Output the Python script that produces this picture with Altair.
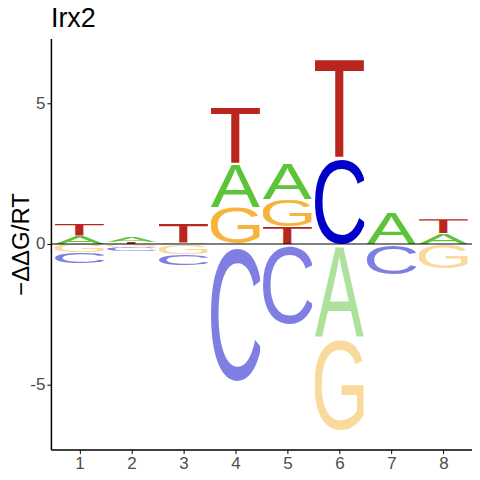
import base64
import altair as alt
import pandas as pd

# ---- data (energy logo, -ddG/RT) ----
positions = [1, 2, 3, 4, 5, 6, 7, 8]
A_vals = [0.30, 0.17, 0.05, 1.58, 1.29, -3.30, 1.11, 0.38]
C_vals = [-0.40, -0.15, -0.41, -4.90, -2.88, 3.11, -1.07, 0.0]
G_vals = [-0.29, -0.10, -0.36, 1.32, 0.98, -3.34, 0.0, -0.87]
T_vals = [0.41, 0.08, 0.72, 2.02, 0.62, 3.59, 0.0, 0.50]
y_ticks = [-5, 0, 5]
chart_title = ["Irx2"]

letters = {"A": A_vals, "C": C_vals, "G": G_vals, "T": T_vals}
colors = {"A": "#5DC43A", "C": "#0000C8", "G": "#F5B43C", "T": "#B9261E"}
# ink boxes of Liberation Sans glyphs (font units, 2048/em)
ink = {"A": (-3, 0, 1369, 1466), "C": (100, -25, 1378, 1491),
       "G": (108, -25, 1456, 1491), "T": (48, 0, 1210, 1466)}


def letter_url(letter, negative):
    x0, y0, x1, y1 = ink[letter]
    op = 0.5 if negative else 1.0
    svg = (
        f'<svg xmlns="http://www.w3.org/2000/svg" width="100" height="100" '
        f'viewBox="{x0} {-y1} {x1 - x0} {y1 - y0}" preserveAspectRatio="none">'
        f'<text x="0" y="0" font-family="Liberation Sans, Arial, sans-serif" '
        f'font-size="2048" fill="{colors[letter]}" fill-opacity="{op}">{letter}</text></svg>'
    )
    return "data:image/svg+xml;base64," + base64.b64encode(svg.encode()).decode()


rows = []
for i, p in enumerate(positions):
    vals = [(L, letters[L][i]) for L in letters if letters[L][i] != 0]
    pos = sorted([v for v in vals if v[1] > 0], key=lambda t: t[1])
    neg = sorted([v for v in vals if v[1] < 0], key=lambda t: -t[1])
    base = 0.0
    for L, v in pos:
        rows.append(dict(pos=p, letter=L, lo=base, hi=base + v,
                         x0=p - 0.475, x1=p + 0.475, url=letter_url(L, False)))
        base += v
    base = 0.0
    for L, v in neg:
        rows.append(dict(pos=p, letter=L, lo=base + v, hi=base,
                         x0=p - 0.475, x1=p + 0.475, url=letter_url(L, True)))
        base += v
df = pd.DataFrame(rows)

FONT = "Liberation Sans"
W, H = 422, 412

xscale = alt.Scale(domain=[0.45, 8.55], nice=False, zero=False)
yscale = alt.Scale(domain=[-7.33, 7.33], nice=False, zero=False)

logo = alt.Chart(df).mark_image(aspect=False).encode(
    x=alt.X("x0:Q", scale=xscale,
            axis=alt.Axis(values=positions, title=None, format="d",
                          labelFontSize=17, labelColor="#4D4D4D", labelFont=FONT,
                          tickColor="black", tickSize=4, tickWidth=1,
                          domainColor="black", domainWidth=1.5, grid=False,
                          labelPadding=2)),
    x2="x1:Q",
    y=alt.Y("lo:Q", scale=yscale,
            axis=alt.Axis(values=y_ticks, title="\u2212\u0394\u0394G/RT",
                          labelExpr="toString(datum.value)",
                          labelFontSize=17, labelColor="#4D4D4D", labelFont=FONT,
                          tickColor="black", tickSize=4, tickWidth=1,
                          domainColor="black", domainWidth=1.5, grid=False,
                          labelPadding=2, titleFont=FONT, titleFontSize=24,
                          titleFontWeight="normal", titleColor="black",
                          titleAngle=-90, titleX=-29, titleY=H / 2,
                          titleAlign="center", titleBaseline="middle")),
    y2="hi:Q",
    url="url:N",
)

zero = alt.Chart(pd.DataFrame({"z": [0]})).mark_rule(color="black", strokeWidth=1).encode(
    y=alt.Y("z:Q", scale=yscale),
    x=alt.value(0), x2=alt.value(W),
)

title = alt.Chart(pd.DataFrame({"t": chart_title})).mark_text(
    align="left", baseline="alphabetic", fontSize=27, font=FONT, color="black"
).encode(x=alt.value(0), y=alt.value(-11), text="t:N")

chart = alt.layer(logo, zero, title).properties(
    width=W, height=H,
    autosize=alt.AutoSizeParams(type="none"),
    padding={"left": 43, "top": 30, "right": 0, "bottom": 22},
).configure_view(stroke=None)

chart.save("out.html", embed_options={"renderer": "svg", "actions": False})
